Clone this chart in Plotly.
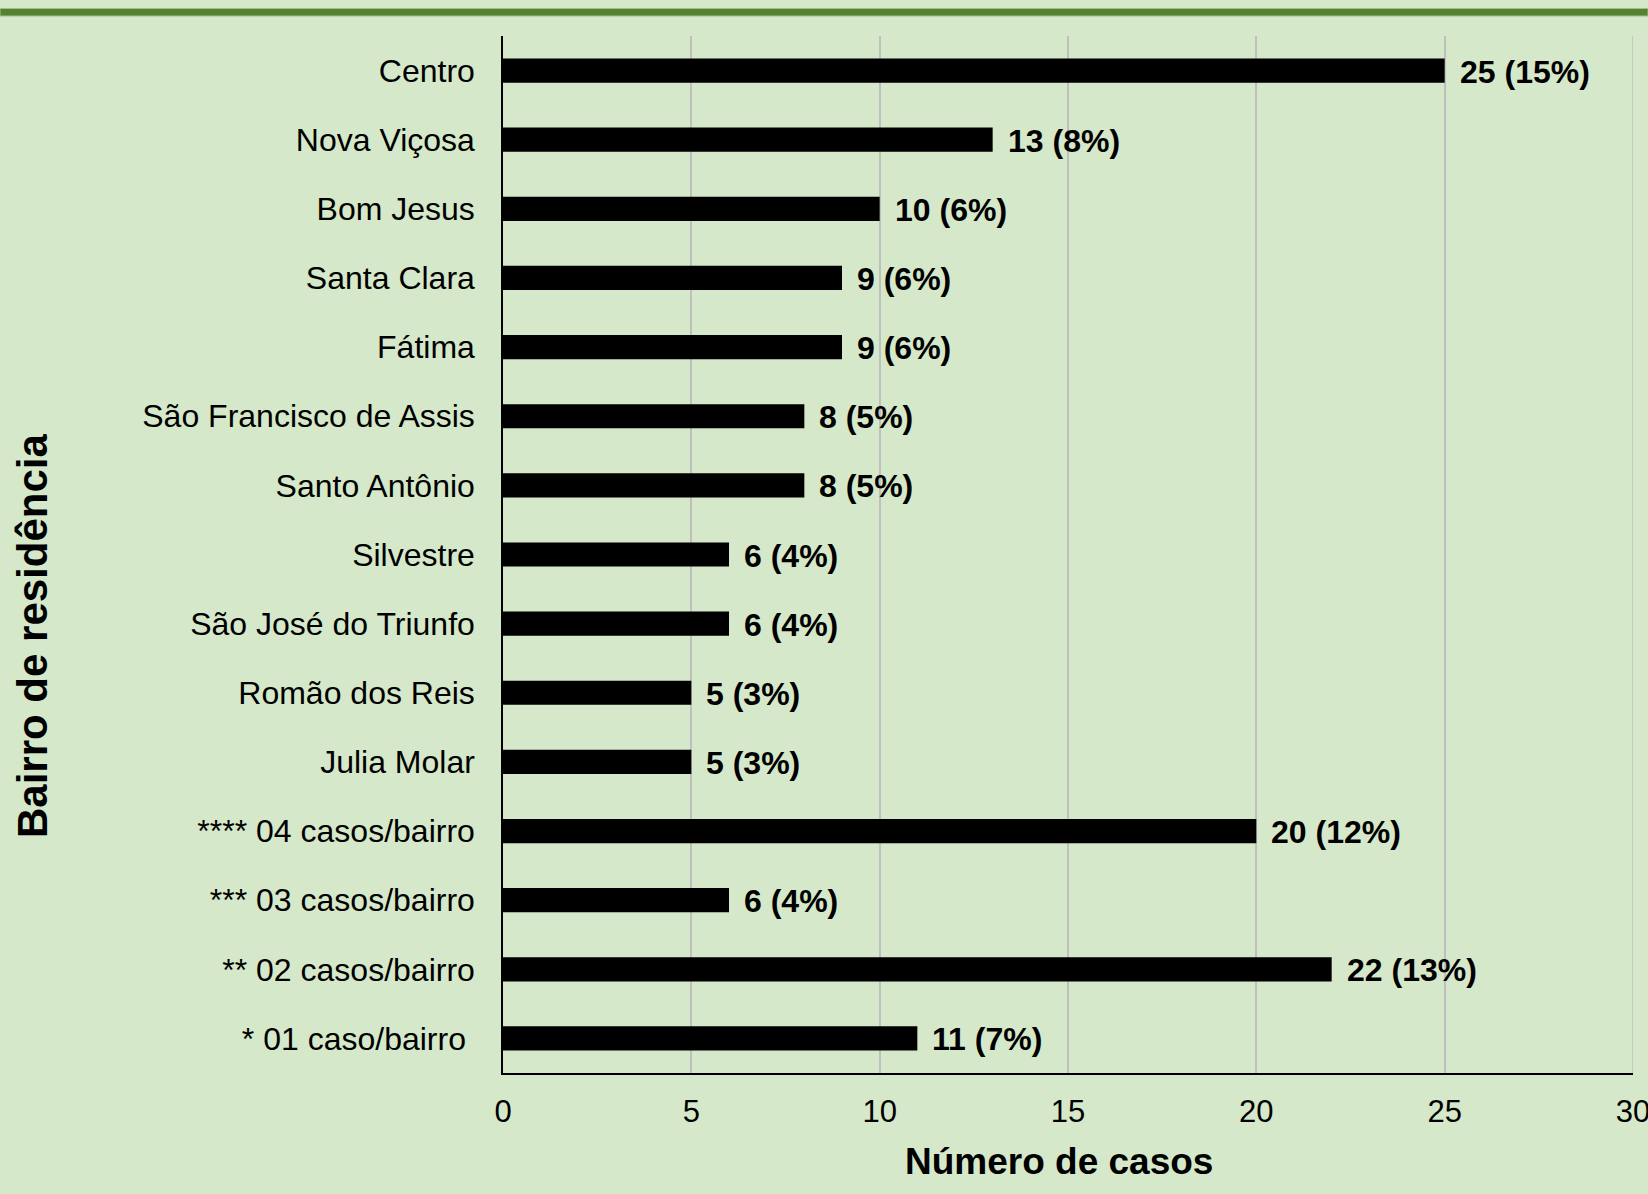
import plotly.graph_objects as go

# data, top to bottom as in the chart
BAIRROS = [
    "Centro",
    "Nova Viçosa",
    "Bom Jesus",
    "Santa Clara",
    "Fátima",
    "São Francisco de Assis",
    "Santo Antônio",
    "Silvestre",
    "São José do Triunfo",
    "Romão dos Reis",
    "Julia Molar",
    "**** 04 casos/bairro",
    "*** 03 casos/bairro",
    "** 02 casos/bairro",
    "* 01 caso/bairro\u00a0",
]
CASOS = [25, 13, 10, 9, 9, 8, 8, 6, 6, 5, 5, 20, 6, 22, 11]
PERCENT = [15, 8, 6, 6, 6, 5, 5, 4, 4, 3, 3, 12, 4, 13, 7]
X_TICKS = [0, 5, 10, 15, 20, 25, 30]

BG = "#D5E8C9"
FONT = "Liberation Sans, Arial, sans-serif"

W, H = 1648, 1194
L, R, T, B = 503, 15, 36, 121
plot_w = W - L - R
plot_h = H - T - B


def px_x(p):
    # pixel column -> paper x
    return (p - L) / plot_w


def px_y(p):
    # pixel row -> paper y
    return (H - B - p) / plot_h


fig = go.Figure()
fig.add_trace(
    go.Bar(
        x=CASOS,
        y=BAIRROS,
        orientation="h",
        marker={"color": "black", "line": {"width": 0}},
        showlegend=False,
        hoverinfo="skip",
    )
)

annotations = []
for bairro, casos, pct in zip(BAIRROS, CASOS, PERCENT):
    annotations.append(
        dict(
            x=casos,
            y=bairro,
            xref="x",
            yref="y",
            text=f"<b>{casos} ({pct}%)</b>",
            showarrow=False,
            xanchor="left",
            yanchor="middle",
            xshift=13,
            yshift=-1,
            font={"family": FONT, "size": 32, "color": "black"},
        )
    )

# axis titles
annotations.append(
    dict(
        x=px_x(1059),
        y=px_y(1161),
        xref="paper",
        yref="paper",
        text="<b>Número de casos</b>",
        showarrow=False,
        xanchor="center",
        yanchor="middle",
        font={"family": FONT, "size": 37, "color": "black"},
    )
)
annotations.append(
    dict(
        x=px_x(32),
        y=px_y(636),
        xref="paper",
        yref="paper",
        text="<b>Bairro de residência</b>",
        showarrow=False,
        textangle=-90,
        xanchor="center",
        yanchor="middle",
        font={"family": FONT, "size": 42, "color": "black"},
    )
)

shapes = [
    # green band at the top of the slide
    dict(
        type="rect",
        xref="paper",
        yref="paper",
        x0=px_x(0),
        x1=px_x(W),
        y0=px_y(16),
        y1=px_y(8.5),
        fillcolor="#548235",
        line={"color": "#9DC183", "width": 1},
        layer="above",
    ),
    # last gridline sits on the plot edge, plotly skips it
    dict(
        type="line",
        xref="x",
        yref="paper",
        x0=X_TICKS[-1],
        x1=X_TICKS[-1],
        y0=0,
        y1=1,
        line={"color": "#BFBFBF", "width": 1.5},
        layer="below",
    ),
]

fig.update_layout(
    width=W,
    height=H,
    margin={"l": L, "r": R, "t": T, "b": B, "autoexpand": False},
    paper_bgcolor=BG,
    plot_bgcolor=BG,
    bargap=0.65,
    font={"family": FONT, "color": "black", "size": 32},
    annotations=annotations,
    shapes=shapes,
)

fig.update_xaxes(
    range=[0, 30],
    tickvals=X_TICKS,
    ticktext=[str(v) for v in X_TICKS],
    showgrid=True,
    gridcolor="#BFBFBF",
    gridwidth=1.5,
    zeroline=False,
    showline=True,
    linecolor="black",
    linewidth=1.5,
    ticks="",
    ticklabelstandoff=10,
    ticklabeloverflow="allow",
    tickfont={"size": 31, "family": FONT, "color": "black"},
    automargin=False,
)

fig.update_yaxes(
    categoryorder="array",
    categoryarray=BAIRROS[::-1],
    autorange=False,
    range=[-0.5, len(BAIRROS) - 0.5],
    showgrid=False,
    zeroline=False,
    showline=True,
    linecolor="black",
    linewidth=1.5,
    ticks="",
    ticklabelstandoff=20,
    tickfont={"size": 32, "family": FONT, "color": "black"},
    automargin=False,
)

fig.write_html(
    "out.html",
    config={"displayModeBar": False},
    post_script="document.body.style.margin='0';",
)
